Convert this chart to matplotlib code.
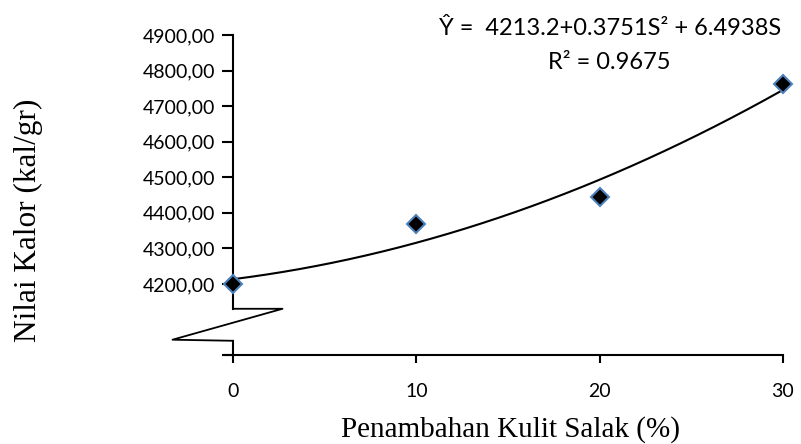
import numpy as np
import matplotlib
matplotlib.use("Agg")
import matplotlib.pyplot as plt

# data
kulit_salak = [0, 10, 20, 30]            # %
nilai_kalor = [4200, 4368, 4444, 4763]   # kal/gr
x_ticks = [0, 10, 20, 30]
y_ticks = [4000, 4200, 4300, 4400, 4500, 4600, 4700, 4800, 4900]
y_labels = [''] + ['%d,00' % v for v in y_ticks[1:]]

# regression from the chart: Y = 4213.2 + 0.3751 S^2 + 6.4938 S
a, b, c = 4213.2, 6.4938, 0.3751

fig = plt.figure(figsize=(8.01, 4.44), dpi=100)
ax = fig.add_axes([233/801, 89/444, 550/801, 320/444])

tick_font = ['Lato', 'DejaVu Sans']
serif_font = ['Liberation Serif', 'DejaVu Serif']

s = np.linspace(0, 30, 200)
ax.plot(s, a + b*s + c*s**2, color='black', lw=1.5, zorder=2)

ax.plot(kulit_salak, nilai_kalor, linestyle='none', marker='D', markersize=9,
        markerfacecolor='black', markeredgecolor='#4F81BD', markeredgewidth=1.5,
        clip_on=False, zorder=3)

ax.set_xlim(0, 30)
ax.set_ylim(4000, 4900)

for side in ['top', 'right', 'left']:
    ax.spines[side].set_visible(False)
ax.spines['bottom'].set_linewidth(1.5)
ax.spines['bottom'].set_bounds(-0.45, 30)

# y axis with break symbol
ax.plot([0, 0], [4900, 4130], color='black', lw=1.5, clip_on=False)
ax.plot([0, 2.7, -3.3, 0], [4130, 4130, 4043, 4040], color='black', lw=1.3, clip_on=False)
ax.plot([0, 0], [4040, 4000], color='black', lw=1.5, clip_on=False)

ax.set_xticks(x_ticks)
ax.set_xticklabels([str(v) for v in x_ticks], family=tick_font, fontsize=14)
ax.set_yticks(y_ticks)
ax.set_yticklabels(y_labels, family=tick_font, fontsize=14)
ax.tick_params(axis='x', direction='out', length=6, width=1.5, pad=14)
ax.tick_params(axis='y', direction='out', length=8, width=1.5, pad=5)

ax.set_xlabel('Penambahan Kulit Salak (%)', family=serif_font, fontsize=21)
ax.set_ylabel('Nilai Kalor (kal/gr)', family=serif_font, fontsize=22.5)
ax.xaxis.set_label_coords(0.505, -0.19)
ax.yaxis.set_label_coords(-0.345, 0.42)

ax.text(0.685, 1.02, 'Ŷ =  4213.2+0.3751S² + 6.4938S', transform=ax.transAxes,
        ha='center', va='center', family=tick_font, fontsize=17)
ax.text(0.685, 0.915, 'R² = 0.9675', transform=ax.transAxes,
        ha='center', va='center', family=tick_font, fontsize=17)

fig.savefig('out.png', dpi=100)
